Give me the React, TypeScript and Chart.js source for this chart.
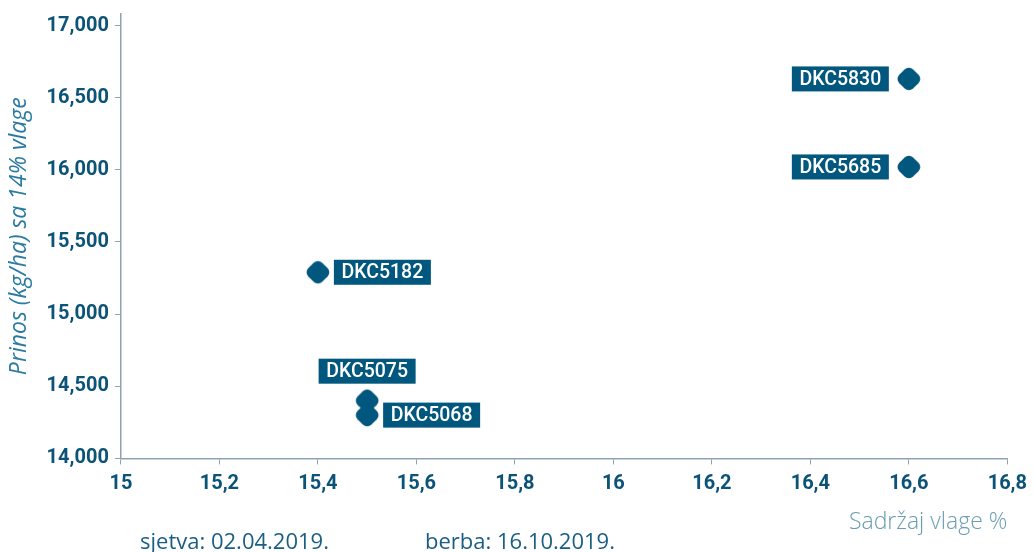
import React, { useEffect, useRef } from "react";
import { Chart, registerables } from "chart.js";

Chart.register(...registerables);

const hybrids = ["DKC5830", "DKC5685", "DKC5182", "DKC5075", "DKC5068"];
const moisture = [16.6, 16.6, 15.4, 15.5, 15.5];
const yieldKg = [16630, 16020, 15290, 14400, 14300];
const labelSide = ["left", "left", "right", "above", "right"];

const xTicks = [15, 15.2, 15.4, 15.6, 15.8, 16, 16.2, 16.4, 16.6, 16.8];
const xTickLabels = ["15", "15,2", "15,4", "15,6", "15,8", "16", "16,2", "16,4", "16,6", "16,8"];
const yTicks = [14000, 14500, 15000, 15500, 16000, 16500, 17000];
const yTickLabels = ["14,000", "14,500", "15,000", "15,500", "16,000", "16,500", "17,000"];

const yTitle = "Prinos (kg/ha) sa 14% vlage";
const xTitle = "Sadržaj vlage %";
const footerLeft = "sjetva: 02.04.2019.";
const footerRight = "berba: 16.10.2019.";

const DARK = "#02577e";
const TICK = "#0b5378";
const AXIS = "#8ea3b2";
const FONT = "Roboto, 'Noto Sans', sans-serif";
const WIDE = "'Open Sans', 'Noto Sans', sans-serif";

function makeMarker(): HTMLCanvasElement {
  const c = document.createElement("canvas");
  c.width = 32;
  c.height = 32;
  const ctx = c.getContext("2d")!;
  ctx.translate(16, 16);
  ctx.rotate(Math.PI / 4);
  ctx.beginPath();
  (ctx as any).roundRect(-9.8, -9.8, 19.6, 19.6, 6);
  ctx.fillStyle = DARK;
  ctx.fill();
  return c;
}

const labelPlugin = {
  id: "pointLabels",
  afterDatasetsDraw(chart: any) {
    const meta = chart.getDatasetMeta(0);
    const ctx = chart.ctx;
    ctx.save();
    ctx.font = `500 19.5px ${FONT}`;
    ctx.textBaseline = "middle";
    ctx.textAlign = "center";
    meta.data.forEach((pt: any, i: number) => {
      const text = hybrids[i];
      const w = 97;
      const h = 25;
      let bx = 0;
      let by = 0;
      const side = labelSide[i];
      if (side === "left") {
        bx = pt.x - 20 - w;
        by = pt.y - h / 2;
      } else if (side === "right") {
        bx = pt.x + 16;
        by = pt.y - h / 2;
      } else {
        bx = pt.x - w / 2;
        by = pt.y - 17 - h;
      }
      ctx.fillStyle = DARK;
      ctx.fillRect(bx, by, w, h);
      ctx.fillStyle = "#ffffff";
      ctx.fillText(text, bx + w / 2, by + h / 2 + 1);
    });
    ctx.restore();
  },
};

export default function App() {
  const ref = useRef<HTMLCanvasElement | null>(null);
  useEffect(() => {
    document.body.style.margin = "0";
    const marker = makeMarker();
    const chart = new Chart(ref.current!, {
      type: "scatter",
      data: {
        datasets: [
          {
            data: moisture.map((x, i) => ({ x, y: yieldKg[i] })),
            pointStyle: marker as any,
            backgroundColor: DARK,
            borderColor: DARK,
          },
        ],
      },
      options: {
        animation: false,
        responsive: true,
        maintainAspectRatio: false,
        layout: { padding: { top: 0, right: 0, bottom: 16, left: 6 } },
        plugins: { legend: { display: false }, tooltip: { enabled: false } },
        scales: {
          x: {
            type: "linear",
            min: 15,
            max: 16.8,
            afterBuildTicks: (axis: any) => {
              axis.ticks = xTicks.map((v) => ({ value: v }));
            },
            ticks: {
              callback: (_v: any, i: number) => xTickLabels[i],
              color: TICK,
              font: { family: FONT, size: 20, weight: "bold" },
              padding: 8,
              maxRotation: 0,
            },
            grid: {
              display: true,
              drawOnChartArea: false,
              drawTicks: true,
              tickLength: 6,
              color: AXIS,
            },
            border: { display: true, color: AXIS, width: 1.5 },
            title: {
              display: true,
              text: xTitle,
              align: "end",
              color: "#6a9cb4",
              font: { family: WIDE, size: 23, weight: "300" },
              padding: { top: 4, bottom: 0 },
            },
          },
          y: {
            type: "linear",
            min: 14000,
            max: 17080,
            afterBuildTicks: (axis: any) => {
              axis.ticks = yTicks.map((v) => ({ value: v }));
            },
            ticks: {
              callback: (_v: any, i: number) => yTickLabels[i],
              color: TICK,
              font: { family: FONT, size: 20, weight: "bold", lineHeight: 0.8 },
              padding: 6,
            },
            grid: {
              display: true,
              drawOnChartArea: false,
              drawTicks: true,
              tickLength: 6,
              color: AXIS,
            },
            border: { display: true, color: AXIS, width: 1.5 },
            title: {
              display: true,
              text: yTitle,
              color: "#2a7aa2",
              font: { family: WIDE, size: 23, style: "italic" },
              padding: { top: 0, bottom: 7 },
            },
          },
        },
      },
      plugins: [labelPlugin],
    } as any);
    return () => chart.destroy();
  }, []);
  const footStyle: React.CSSProperties = {
    position: "absolute",
    top: 529,
    fontFamily: WIDE,
    fontSize: 22,
    lineHeight: "22px",
    fontWeight: 400,
    color: "#1a5e84",
    whiteSpace: "nowrap",
  };
  return (
    <div style={{ position: "absolute", left: 0, top: 0, width: 1035, height: 552, overflow: "hidden" }}>
      <canvas ref={ref} />
      <div style={{ ...footStyle, left: 140 }}>{footerLeft}</div>
      <div style={{ ...footStyle, left: 425 }}>{footerRight}</div>
    </div>
  );
}
